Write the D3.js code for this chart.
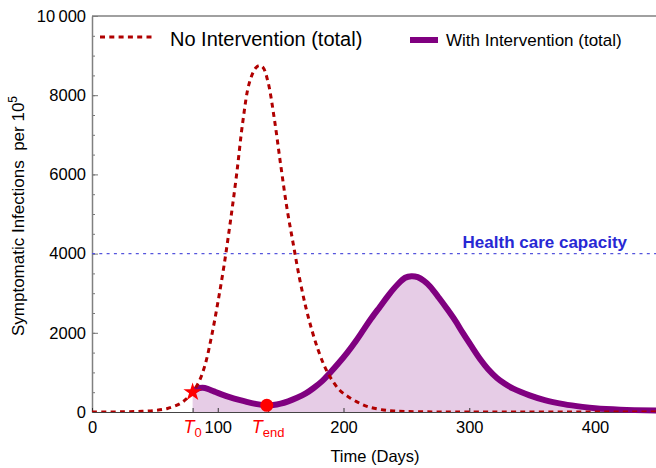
<!DOCTYPE html>
<html>
<head>
<meta charset="utf-8">
<script src="https://cdn.jsdelivr.net/npm/d3@7/dist/d3.min.js"></script>
<style>
  body { margin: 0; background: #fff; }
  svg { display: block; font-family: "Liberation Sans", Arial, sans-serif; }
</style>
</head>
<body>
<div id="graph"></div>
<script>
// no intervention curve (days, infections per 10^5)
var noDays = [0, 20, 30, 40, 50, 60, 70, 75, 80, 85, 90, 95, 100, 105, 110, 115, 120, 125, 130, 133, 136, 140,
    145, 150, 155, 160, 165, 170, 175, 180, 185, 190, 197, 205, 213, 220, 230, 240, 260, 300, 450]
var noVals = [0, 3, 8, 18, 40, 90, 210, 330, 500, 760, 1200, 1900, 2750, 3700, 4800, 6000, 7350, 8300, 8680, 8750, 8700, 8330,
    7400, 6250, 5150, 4250, 3380, 2650, 2050, 1550, 1150, 850, 550, 360, 220, 130, 60, 25, 6, 0, 0]

// with intervention curve, starts at T0
var withDays = [80, 84, 88, 92, 97, 103, 110, 117, 123, 130, 135, 139, 144, 150, 156, 163, 170, 176, 183, 189, 196, 203,
    210, 216, 222, 229, 236, 243, 249, 254, 259, 264, 269, 276, 282, 289, 295, 302, 309, 315, 322, 328, 335, 348, 360,
    375, 390, 400, 420, 450]
var withVals = [500, 590, 610, 585, 520, 445, 370, 305, 255, 205, 180, 168, 175, 210, 270, 360, 470, 600, 780, 980, 1230, 1500,
    1800, 2080, 2360, 2660, 2960, 3220, 3390, 3430, 3405, 3310, 3165, 2880, 2620, 2300, 1990, 1650, 1320, 1080, 860, 720, 590, 420, 300,
    200, 130, 95, 60, 40]

var T0 = 80, Tend = 140
var capacity = 4000

// axis ticks and labels
var yTicks = [0, 2000, 4000, 6000, 8000, 10000]
var yTickLabels = ["0", "2000", "4000", "6000", "8000", "10\u2009000"]
var xTicks = [0, T0, 100, Tend, 200, 300, 400]

var margin = { top: 16, right: 0, bottom: 56, left: 92 },
    width = 656 - margin.left - margin.right,
    height = 468 - margin.top - margin.bottom;

var svg = d3.select("#graph")
    .append("svg")
    .attr("width", 656)
    .attr("height", 468)
    .append("g")
    .attr("transform", "translate(" + margin.left + "," + margin.top + ")");

var x = d3.scaleLinear().domain([0, 450]).range([0, 565.9])
var y = d3.scaleLinear().domain([0, 10000]).range([height, 0])

var noData = noDays.map(function (d, i) { return [d, noVals[i]] })
var withData = withDays.map(function (d, i) { return [d, withVals[i]] })

svg.append("clipPath").attr("id", "clip")
    .append("rect").attr("x", 0).attr("y", -5).attr("width", width + 10).attr("height", height + 5)

// filled area under the intervention curve
svg.append("path")
    .datum(withData)
    .attr("clip-path", "url(#clip)")
    .attr("fill", "#e6cce6")
    .attr("d", d3.area().x(function (d) { return x(d[0]) }).y0(y(0)).y1(function (d) { return y(d[1]) }).curve(d3.curveCatmullRom))

// minor y ticks
svg.append("g")
    .call(d3.axisLeft(y).tickValues(d3.range(0, 10001, 500)).tickSize(-3).tickFormat(""))
    .call(function (g) { g.select(".domain").remove() })
    .selectAll("line").attr("stroke", "#777")

// y axis
var yAxis = svg.append("g")
    .call(d3.axisLeft(y).tickValues(yTicks).tickSizeInner(-6).tickSizeOuter(0).tickPadding(6)
        .tickFormat(function (d, i) { return yTickLabels[i] }))
yAxis.select(".domain").attr("stroke", "#808080").attr("stroke-width", 1.5)
yAxis.selectAll("line").attr("stroke", "#777")
yAxis.selectAll("text").attr("font-size", "16.5px").attr("fill", "#000").attr("font-family", null)

// top frame line
svg.append("line").attr("x1", 0).attr("x2", width).attr("y1", 0).attr("y2", 0)
    .attr("stroke", "#808080").attr("stroke-width", 1.5)

// x axis
var xAxis = svg.append("g")
    .attr("transform", "translate(0," + height + ")")
    .call(d3.axisBottom(x).tickValues(xTicks).tickSizeInner(-4).tickSizeOuter(0).tickPadding(9.5)
        .tickFormat(function (d) { return (d === T0 || d === Tend) ? "" : d }))
xAxis.select(".domain").attr("stroke", "#444")
xAxis.selectAll("line").attr("stroke", "#333")
xAxis.selectAll("text").attr("font-size", "16.5px").attr("fill", "#000").attr("font-family", null)

// red T0 and Tend labels
var special = [[T0, "0"], [Tend, "end"]]
special.forEach(function (e) {
    var t = svg.append("text")
        .attr("x", x(e[0]))
        .attr("y", height + 21)
        .attr("text-anchor", "middle")
        .attr("fill", "#ff0000")
    t.append("tspan").attr("font-style", "italic").attr("font-size", "18px").text("T")
    t.append("tspan").attr("font-size", "13px").attr("dy", 4).text(e[1])
})

// health care capacity line
svg.append("line")
    .attr("x1", 0).attr("x2", width)
    .attr("y1", y(capacity)).attr("y2", y(capacity))
    .attr("stroke", "#5555dd").attr("stroke-width", 1.2).attr("stroke-dasharray", "3,4.3")
svg.append("text")
    .attr("x", 535).attr("y", y(capacity) - 6)
    .attr("text-anchor", "end")
    .attr("font-weight", "bold").attr("font-size", "17px")
    .attr("fill", "#2828d4")
    .text("Health care capacity")

var line = d3.line().x(function (d) { return x(d[0]) }).y(function (d) { return y(d[1]) }).curve(d3.curveCatmullRom)

// with intervention line
svg.append("path")
    .datum(withData)
    .attr("fill", "none")
    .attr("stroke", "#800080")
    .attr("stroke-width", 6)
    .attr("d", line)

// no intervention line
svg.append("path")
    .datum(noData)
    .attr("clip-path", "url(#clip)")
    .attr("fill", "none")
    .attr("stroke", "#b00000")
    .attr("stroke-width", 3)
    .attr("stroke-dasharray", "5,4.3")
    .attr("d", line)

// star at T0 and dot at Tend
svg.append("path")
    .attr("transform", "translate(" + x(T0) + "," + y(withVals[0]) + ")")
    .attr("d", d3.symbol().type(d3.symbolStar).size(105)())
    .attr("fill", "#ff0000")
var endVal = withVals[withDays.indexOf(139)]
svg.append("circle")
    .attr("cx", x(139)).attr("cy", y(endVal)).attr("r", 6.5)
    .attr("fill", "#ff0000")

// legend
svg.append("line").attr("x1", 8).attr("x2", 62).attr("y1", 21).attr("y2", 21)
    .attr("stroke", "#b00000").attr("stroke-width", 3).attr("stroke-dasharray", "5,4.3")
svg.append("text").attr("x", 78).attr("y", 30).attr("font-size", "20px").text("No Intervention (total)")
svg.append("line").attr("x1", 318).attr("x2", 346).attr("y1", 24).attr("y2", 24)
    .attr("stroke", "#800080").attr("stroke-width", 6)
svg.append("text").attr("x", 354).attr("y", 30).attr("font-size", "17px").text("With Intervention (total)")

// axis titles
svg.append("text")
    .attr("x", 283).attr("y", height + 50)
    .attr("text-anchor", "middle").attr("font-size", "16.5px")
    .text("Time (Days)")
var yl = svg.append("text")
    .attr("transform", "translate(-68," + 200 + ") rotate(-90)")
    .attr("text-anchor", "middle").attr("font-size", "17px")
    .style("white-space", "pre")
yl.append("tspan").text("Symptomatic Infections  per 10")
yl.append("tspan").attr("font-size", "12px").attr("dy", -7).text("5")
</script>
</body>
</html>
